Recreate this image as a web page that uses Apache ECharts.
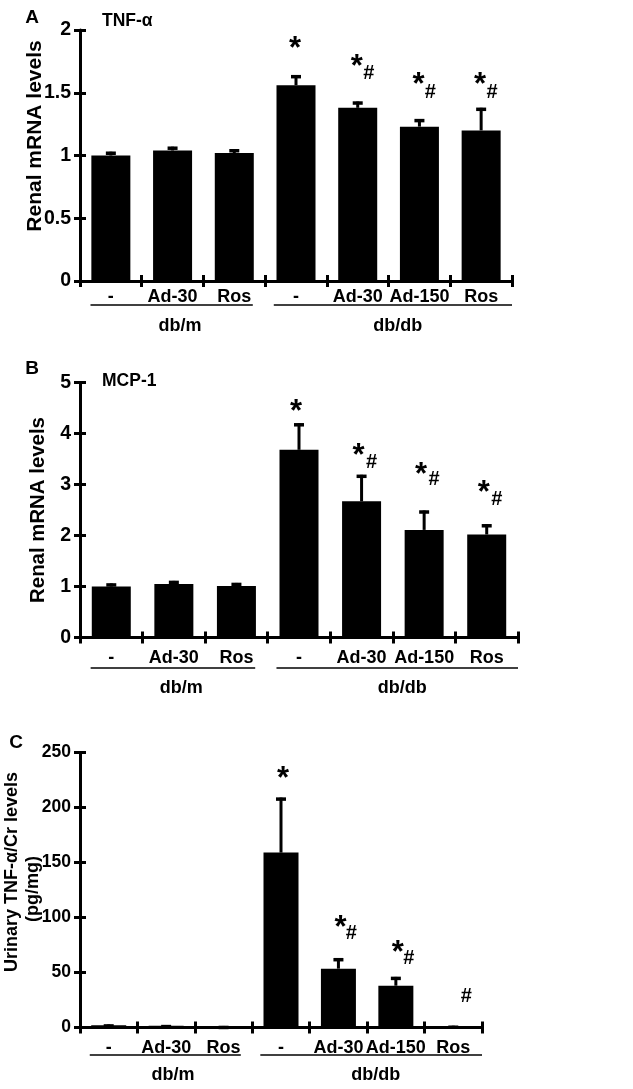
<!DOCTYPE html>
<html>
<head>
<meta charset="utf-8">
<script src="https://cdn.jsdelivr.net/npm/echarts@6/dist/echarts.min.js"></script>
<style>html,body{margin:0;padding:0;background:#fff}#c{width:633px;height:1089px}</style>
</head>
<body>
<div id="c"></div>
<script>
// ---------- data ----------
const categories = ['-', 'Ad-30', 'Ros', '-', 'Ad-30', 'Ad-150', 'Ros'];
const groupNames = ['db/m', 'db/db'];

const tnfMean = [1.00, 1.04, 1.02, 1.56, 1.38, 1.23, 1.20];
const tnfErr  = [0.03, 0.03, 0.03, 0.08, 0.05, 0.06, 0.18];
const tnfStar = [null, null, null, 1.90, 1.76, 1.61, 1.61];
const tnfHash = [null, null, null, null, 1.65, 1.50, 1.50];

const mcpMean = [1.00, 1.05, 1.01, 3.68, 2.67, 2.11, 2.02];
const mcpErr  = [0.06, 0.06, 0.06, 0.52, 0.52, 0.38, 0.20];
const mcpStar = [null, null, null, 4.55, 3.68, 3.32, 2.96];
const mcpHash = [null, null, null, null, 3.43, 3.09, 2.71];

const urnMean = [2.0, 1.5, 1.0, 159, 53.5, 38, 1.2];
const urnErr  = [0.8, 0.7, 0.4, 50, 9.5, 8, 0.4];
const urnStar = [null, null, null, 232, 96, 73.5, null];
const urnHash = [null, null, null, null, 85.6, 63, 28];

const yTicksA = {max: 2, interval: 0.5};
const yTicksB = {max: 5, interval: 1};
const yTicksC = {max: 250, interval: 50};

// ---------- style / layout ----------
const FONT = '"Liberation Sans", Arial, Helvetica, sans-serif';
const panels = [
  {letter: 'A', title: 'TNF-α', mean: tnfMean, err: tnfErr, star: tnfStar, hash: tnfHash, ticks: yTicksA,
   grid: {left: 80, top: 30, width: 432, height: 251}, barWidth: 39, labelMargin: 7, tickSize: 19.5,
   ytitle: ['Renal mRNA levels'], ytitlePos: [[35, 136]], ytitleSize: 21,
   letterPos: [32, 18], titlePos: [102, 21], starDx: -1, hashDx: 11,
   underY: 24, groupY: 45},
  {letter: 'B', title: 'MCP-1', mean: mcpMean, err: mcpErr, star: mcpStar, hash: mcpHash, ticks: yTicksB,
   grid: {left: 80, top: 382.5, width: 438, height: 255}, barWidth: 39, labelMargin: 12, tickSize: 19.5,
   ytitle: ['Renal mRNA levels'], ytitlePos: [[38, 510]], ytitleSize: 20.4,
   letterPos: [32, 369], titlePos: [102, 381], starDx: -3, hashDx: 10,
   underY: 30.5, groupY: 51},
  {letter: 'C', title: '', mean: urnMean, err: urnErr, star: urnStar, hash: urnHash, ticks: yTicksC,
   grid: {left: 80, top: 752.5, width: 402, height: 275}, barWidth: 35, labelMargin: 12, tickSize: 17.5,
   ytitle: ['Urinary TNF-α/Cr levels', '(pg/mg)'], ytitlePos: [[12, 872], [33, 889]], ytitleSize: 18,
   letterPos: [16, 743], titlePos: [102, 760], starDx: 2, hashDx: 13,
   underY: 27.5, groupY: 47.5}
];

function errItem(params, api) {
  const x = api.value(0), m = api.value(1), e = api.value(2);
  const b = api.coord([x, m]);
  const t = api.coord([x, m + e]);
  return {type: 'group', children: [
    {type: 'line', shape: {x1: b[0], y1: b[1], x2: t[0], y2: t[1]}, style: {stroke: '#000', lineWidth: 3}},
    {type: 'line', shape: {x1: t[0] - 5, y1: t[1] + 1.5, x2: t[0] + 5, y2: t[1] + 1.5}, style: {stroke: '#000', lineWidth: 3.5}}
  ]};
}
function markItem(text, size, dx, dy) {
  return function (params, api) {
    const p = api.coord([api.value(0), api.value(1)]);
    return {type: 'text', x: p[0] + dx, y: p[1] + dy,
      style: {text: text, fontSize: size, fontWeight: 'bold', fontFamily: FONT, fill: '#000',
              align: 'center', verticalAlign: 'middle', textAlign: 'center', textVerticalAlign: 'middle'}};
  };
}
function pairs(arr, extra) {
  const out = [];
  arr.forEach((v, i) => { if (v !== null) out.push(extra ? [i, v, extra[i]] : [i, v]); });
  return out;
}

const option = {animation: false, grid: [], xAxis: [], yAxis: [], series: []};
panels.forEach((p, k) => {
  option.grid.push(Object.assign({containLabel: false}, p.grid));
  const axLine = {show: true, lineStyle: {color: '#000', width: 3}};
  option.xAxis.push({type: 'category', data: categories, gridIndex: k, position: 'bottom',
    axisLine: axLine, axisTick: {show: true, length: 6, lineStyle: {color: '#000', width: 3}},
    axisLabel: {color: '#000', fontSize: 18, fontWeight: 'bold', fontFamily: FONT, margin: p.labelMargin, interval: 0},
    splitLine: {show: false}});
  option.xAxis.push({type: 'category', data: categories, gridIndex: k, position: 'bottom',
    axisLine: {show: false}, axisTick: {show: true, inside: true, length: 6, lineStyle: {color: '#000', width: 3}},
    axisLabel: {show: false}, splitLine: {show: false}});
  option.yAxis.push({type: 'value', gridIndex: k, min: 0, max: p.ticks.max, interval: p.ticks.interval, position: 'left',
    axisLine: axLine, axisTick: {show: true, length: 6, lineStyle: {color: '#000', width: 3}},
    axisLabel: {color: '#000', fontSize: p.tickSize, fontWeight: 'bold', fontFamily: FONT, margin: 9},
    splitLine: {show: false}});
  option.yAxis.push({type: 'value', gridIndex: k, min: 0, max: p.ticks.max, interval: p.ticks.interval, position: 'left',
    axisLine: {show: false}, axisTick: {show: true, inside: true, length: 6, lineStyle: {color: '#000', width: 3}},
    axisLabel: {show: false}, splitLine: {show: false}});
  const xi = k * 2, yi = k * 2;
  option.series.push({type: 'bar', xAxisIndex: xi, yAxisIndex: yi, data: p.mean, barWidth: p.barWidth,
    itemStyle: {color: '#000'}, silent: true});
  option.series.push({type: 'custom', xAxisIndex: xi, yAxisIndex: yi, renderItem: errItem,
    data: pairs(p.mean, p.err), silent: true, z: 3});
  option.series.push({type: 'custom', xAxisIndex: xi, yAxisIndex: yi, renderItem: markItem('*', 31, p.starDx, 7),
    data: pairs(p.star), silent: true, z: 4});
  option.series.push({type: 'custom', xAxisIndex: xi, yAxisIndex: yi, renderItem: markItem('#', 20, p.hashDx, 0),
    data: pairs(p.hash), silent: true, z: 4});
});

const chart = echarts.init(document.getElementById('c'), null, {renderer: 'canvas'});
chart.setOption(option);

// ---------- annotations derived from the axes ----------
const graphic = [];
const txt = (s, x, y, size, align, rot) => ({type: 'text', x: x, y: y, rotation: rot || 0, silent: true,
  style: {text: s, fontSize: size, fontWeight: 'bold', fontFamily: FONT, fill: '#000',
          align: align || 'center', verticalAlign: 'middle', textAlign: align || 'center', textVerticalAlign: 'middle'}});
panels.forEach((p, k) => {
  const cx = i => chart.convertToPixel({xAxisIndex: k * 2}, i);
  const axisY = chart.convertToPixel({yAxisIndex: k * 2}, 0);
  const band = cx(1) - cx(0);
  const uy = axisY + p.underY;
  const m0 = cx(0) - 0.33 * band, m1 = cx(2) + 0.3 * band;
  const d0 = cx(3) - 0.36 * band, d1 = cx(6) + 0.5 * band;
  graphic.push({type: 'line', silent: true, shape: {x1: m0, y1: uy, x2: m1, y2: uy}, style: {stroke: '#000', lineWidth: 1.5}});
  graphic.push({type: 'line', silent: true, shape: {x1: d0, y1: uy, x2: d1, y2: uy}, style: {stroke: '#000', lineWidth: 1.5}});
  graphic.push(txt(groupNames[0], cx(1) + 0.12 * band, axisY + p.groupY, 18));
  graphic.push(txt(groupNames[1], (cx(4) + cx(5)) / 2 + 0.15 * band, axisY + p.groupY, 18));
  graphic.push(txt(p.letter, p.letterPos[0], p.letterPos[1], 19));
  if (p.title) graphic.push(txt(p.title, p.titlePos[0], p.titlePos[1], 17.5, 'left'));
  p.ytitle.forEach((s, j) => graphic.push(txt(s, p.ytitlePos[j][0], p.ytitlePos[j][1], p.ytitleSize, 'center', Math.PI / 2)));
});
chart.setOption({graphic: graphic});
</script>
</body>
</html>
